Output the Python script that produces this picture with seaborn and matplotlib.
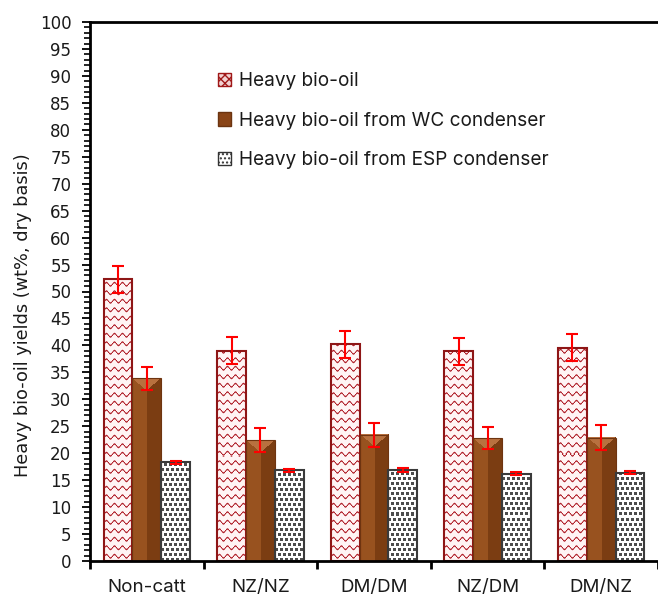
import numpy as np
import pandas as pd
import matplotlib
matplotlib.use("Agg")
import matplotlib.pyplot as plt
from matplotlib.patches import Patch
from matplotlib.ticker import MultipleLocator
from matplotlib.colors import to_rgb
import seaborn as sns

# ---- data -------------------------------------------------------------
categories = ["Non-catt", "NZ/NZ", "DM/DM", "NZ/DM", "DM/NZ"]
series = ["Heavy bio-oil",
          "Heavy bio-oil from WC condenser",
          "Heavy bio-oil from ESP condenser"]

heavy = [52.3, 39.0, 40.2, 38.9, 39.6]
heavy_err = [2.5, 2.5, 2.5, 2.5, 2.5]
wc = [33.9, 22.4, 23.4, 22.8, 22.9]
wc_err = [2.1, 2.2, 2.2, 2.1, 2.3]
esp = [18.3, 16.8, 16.9, 16.2, 16.4]
esp_err = [0.3, 0.2, 0.3, 0.3, 0.3]

values = [heavy, wc, esp]
errors = [heavy_err, wc_err, esp_err]

df = pd.DataFrame({
    "Catalyst": np.tile(categories, len(series)),
    "Fraction": np.repeat(series, len(categories)),
    "Yield": heavy + wc + esp,
})

# ---- style ------------------------------------------------------------
sns.set_theme(style="white")
plt.rcParams["font.family"] = ["DejaVu Sans"]

fig = plt.figure(figsize=(6.58, 5.96), dpi=100)
ax = fig.add_axes([90 / 658, 1 - 561 / 596, 568 / 658, 539 / 596])

sns.barplot(data=df, x="Catalyst", y="Yield", hue="Fraction",
            order=categories, hue_order=series,
            palette=["#f4dede", "#8a4517", "#ffffff"], saturation=1,
            width=0.76, errorbar=None, legend=False, ax=ax)

ax.set_xlim(-0.5, len(categories) - 0.5)
ax.set_ylim(0, 100)
ax.set_autoscale_on(False)
bar_groups = list(ax.containers)


# ---- bar fill textures -------------------------------------------------
def wave_texture(w, h):
    yy, xx = np.mgrid[0:h, 0:w].astype(float)
    yb = h - 1 - yy
    spacing, period, amp = 8.5, 8.0, 1.7
    s = yb - amp * np.sin(2 * np.pi * xx / period)
    d = np.abs((s % spacing) - spacing / 2)
    ink = np.clip(1.25 - d, 0, 1)[..., None]
    bg = np.array([1.0, 0.96, 0.96])
    fg = np.array(to_rgb("#b0202a"))
    return bg * (1 - ink) + fg * ink


def dot_texture(w, h):
    yy, xx = np.mgrid[0:h, 0:w]
    yb = h - 1 - yy
    cell = 5
    row = yb // cell
    xs = (xx + (row % 2) * 2) % cell
    ys = yb % cell
    ink = ((xs < 3) & (ys < 3)).astype(float)[..., None] * 0.85
    bg = np.array([1.0, 1.0, 1.0])
    fg = np.array(to_rgb("#2e2e2e"))
    return bg * (1 - ink) + fg * ink


def bevel_texture(w, h):
    yy, xx = np.mgrid[0:h, 0:w].astype(float)
    img = np.empty((h, w, 3))
    left = np.array(to_rgb("#98521f"))
    right = np.array(to_rgb("#7b3d12"))
    top = np.array(to_rgb("#b8713f"))
    img[:] = right
    img[xx < w / 2] = left
    roof = yy < np.minimum(xx, w - 1 - xx) * 0.85
    img[roof] = top
    return img


makers = [wave_texture, bevel_texture, dot_texture]
edges = ["#8e1616", "#6e3410", "#3a3a3a"]
edge_w = [1.5, 0.8, 1.5]

for k, container in enumerate(bar_groups):
    for bar in container:
        x0 = bar.get_x()
        x1 = x0 + bar.get_width()
        h = bar.get_height()
        p0 = ax.transData.transform((x0, 0))
        p1 = ax.transData.transform((x1, h))
        wpx = max(int(round(p1[0] - p0[0])), 1)
        hpx = max(int(round(p1[1] - p0[1])), 1)
        tex = makers[k](wpx, hpx)
        ax.imshow(tex, extent=(x0, x1, 0, h), origin="upper",
                  interpolation="nearest", aspect="auto", zorder=1.5,
                  clip_path=bar, clip_on=True)
        bar.set_facecolor("none")
        bar.set_edgecolor(edges[k])
        bar.set_linewidth(edge_w[k])
        bar.set_zorder(2)

# ---- error bars -------------------------------------------------------
for k, container in enumerate(bar_groups):
    xc = [b.get_x() + b.get_width() / 2 for b in container]
    ax.errorbar(xc, values[k], yerr=errors[k], fmt="none", ecolor="#ff0000",
                elinewidth=1.5, capsize=4, capthick=1.5, zorder=5)

# ---- axes -------------------------------------------------------------
ax.set_yticks(range(0, 101, 5))
ax.yaxis.set_minor_locator(MultipleLocator(1))
ax.tick_params(axis="y", which="major", direction="out", length=5.5,
               width=1.3, left=True, color="black", labelsize=12, pad=8,
               labelcolor="#1a1a1a")
ax.tick_params(axis="y", which="minor", direction="out", length=4,
               width=1.2, left=True, color="black")

ax.set_xticks(range(len(categories)))
ax.set_xticklabels(categories, fontfamily=["Inter", "DejaVu Sans"],
                   fontsize=13.5, color="#1a1a1a")
ax.set_xticks([i - 0.5 for i in range(len(categories) + 1)], minor=True)
ax.tick_params(axis="x", which="major", length=0, pad=13)
ax.tick_params(axis="x", which="minor", length=6, width=2,
               bottom=True, direction="out", color="black")

ax.set_xlabel("")
ax.set_ylabel("Heavy bio-oil yields (wt%, dry basis)", fontsize=12.8,
              color="#1a1a1a")
ax.yaxis.set_label_coords(-0.102, 0.456)

for side in ["left", "bottom", "top"]:
    ax.spines[side].set_color("black")
    ax.spines[side].set_linewidth(2)
ax.spines["right"].set_visible(False)

# ---- legend -----------------------------------------------------------
handles = [
    Patch(facecolor="#f2d2d2", edgecolor="#a01818", hatch="xxxx"),
    Patch(facecolor="#8a4517", edgecolor="#6b3410"),
    Patch(facecolor="white", edgecolor="#333333", hatch="...."),
]
ax.legend(handles, series, loc="upper left", bbox_to_anchor=(0.225, 0.907),
          frameon=False, prop={"family": ["Inter", "DejaVu Sans"], "size": 13.7},
          labelspacing=1.13, handlelength=0.7, handleheight=0.7,
          handletextpad=0.4, borderpad=0, borderaxespad=0,
          labelcolor="#1a1a1a")

fig.savefig("out.png", dpi=100)
